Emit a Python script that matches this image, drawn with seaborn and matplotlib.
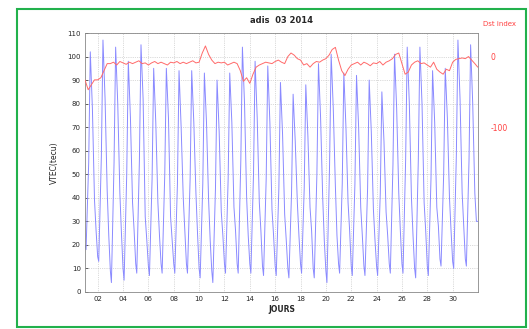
import numpy as np
import pandas as pd
import matplotlib
matplotlib.use("Agg")
import matplotlib.pyplot as plt
from matplotlib.patches import Rectangle
import seaborn as sns

# ---- data ----
days = list(range(1, 32))
# VTEC (TECU) at fixed UT hours of each day of March 2014
vtec_00h = [20, 15, 9, 10, 12, 11, 12, 12, 12, 10, 9, 12, 12, 12, 11, 11, 10, 12, 10, 9, 12, 11, 11, 11, 12, 12, 10, 11, 14, 13, 14]
vtec_02h = [18, 13, 4, 5, 8, 7, 8, 8, 8, 6, 4, 8, 8, 8, 7, 7, 6, 8, 6, 4, 8, 7, 7, 7, 8, 8, 6, 7, 11, 10, 11]
vtec_07h = [55, 58, 55, 50, 56, 48, 50, 46, 48, 46, 44, 48, 56, 50, 48, 44, 42, 44, 50, 54, 46, 46, 44, 42, 54, 56, 56, 48, 50, 58, 56]
vtec_10h = [102, 107, 104, 98, 105, 95, 95, 94, 94, 93, 90, 93, 104, 98, 96, 89, 84, 88, 97, 101, 93, 92, 90, 85, 101, 104, 104, 94, 95, 107, 105]
vtec_14h = [78, 82, 80, 74, 82, 72, 74, 70, 72, 72, 68, 72, 80, 74, 72, 67, 64, 66, 74, 78, 70, 70, 68, 64, 78, 80, 80, 72, 74, 82, 80]
vtec_18h = [39, 43, 42, 38, 32, 38, 32, 40, 42, 39, 34, 36, 40, 38, 35, 33, 38, 36, 40, 45, 38, 36, 35, 34, 42, 40, 38, 36, 40, 42, 42]
vtec_21h = [26, 24, 25, 26, 22, 24, 22, 26, 25, 22, 24, 26, 24, 26, 24, 22, 24, 26, 22, 24, 26, 24, 22, 24, 26, 24, 26, 28, 26, 28, 30]
vtec_end = 30
# Dst index (nT) every 6 h (00, 06, 12, 18 UT)
dst_6h = [-33, -47, -40, -33,  -33, -30, -20, -10,  -10, -8, -12, -7,  -9, -11, -8, -10,
          -8, -6, -10, -9,  -12, -9, -7, -10,  -8, -10, -12, -8,  -9, -7, -10, -8,
          -10, -8, -6, -9,  -8, 5, 15, 3,  -5, -10, -8, -9,  -8, -12, -10, -8,
          -10, -20, -35, -30,  -38, -25, -15, -12,  -10, -8, -9, -10,  -7, -5, -8, -10,
          0, 5, 2, -3,  -5, -12, -10, -15,  -10, -7, -8, -5,  -3, 2, 10, 13,
          -5, -20, -27, -18,  -12, -10, -8, -12,  -8, -10, -13, -9,  -10, -7, -12, -8,
          -6, -3, 3, 5,  -10, -25, -22, -12,  -8, -6, -10, -9,  -12, -15, -8, -18,
          -22, -25, -18, -20,  -8, -4, -3, -2,  -3, 0, -5, -10]
dst_end = -15

title = "adis  03 2014"
xtick_days = list(range(2, 31, 2))
xtick_labels = [f"{d:02d}" for d in xtick_days]

# ---- assemble tables ----
hours = [0, 2, 7, 10, 14, 18, 21]
cols = [vtec_00h, vtec_02h, vtec_07h, vtec_10h, vtec_14h, vtec_18h, vtec_21h]
t_v, v_v = [], []
for i, d in enumerate(days):
    for h, c in zip(hours, cols):
        t_v.append(d + h / 24.0)
        v_v.append(c[i])
t_v.append(days[-1] + 23.5 / 24.0)
v_v.append(vtec_end)
df_v = pd.DataFrame({"t": t_v, "vtec": v_v})

t_d = [days[0] + k * 0.25 for k in range(len(dst_6h))] + [days[-1] + 0.98]
df_d = pd.DataFrame({"t": t_d, "dst": dst_6h + [dst_end]})

# ---- figure ----
sns.set_theme(style="white")
plt.rcParams["font.family"] = ["DejaVu Sans"]
fig = plt.figure(figsize=(5.29, 3.29), dpi=100)
ax = fig.add_axes([85 / 529, 1 - 292 / 329, (478 - 85) / 529, (292 - 33) / 329])

sns.lineplot(data=df_v, x="t", y="vtec", ax=ax, color="#8a8aff", linewidth=0.7, sort=False)
ax.set_xlim(1, 32)
ax.set_ylim(0, 110)
ax.set_yticks(range(0, 111, 10))
ax.set_yticklabels([str(v) for v in range(0, 111, 10)])
ax.set_xticks(xtick_days)
ax.set_xticklabels(xtick_labels)
ax.set_xticks([d for d in range(1, 33) if d % 2 == 1], minor=True)
ax.tick_params(axis="both", which="major", labelsize=5, direction="in", length=2.5, width=0.5, pad=3)
ax.tick_params(axis="x", which="minor", direction="in", length=1.5, width=0.5)
ax.grid(True, which="major", linestyle=":", linewidth=0.5, color="#b8b8b8")
for s in ax.spines.values():
    s.set_color("#888888")
    s.set_linewidth(0.6)
ax.set_xlabel("JOURS", fontsize=5.5, fontweight="bold", labelpad=2)
ax.set_ylabel("VTEC(tecu)", fontsize=5.5, labelpad=6)
ax.set_title(title, fontsize=6, fontweight="bold", pad=7)

ax2 = ax.twinx()
sns.lineplot(data=df_d, x="t", y="dst", ax=ax2, color="#ff6a6a", linewidth=0.7, sort=False)
ax2.set_ylim(-333.33, 33.33)
ax2.set_yticks([-100, 0])
ax2.set_yticklabels(["-100", "0"], color="#ff4040")
ax2.tick_params(axis="y", labelsize=5.5, length=0, pad=9)
ax2.set_ylabel("")
for s in ax2.spines.values():
    s.set_visible(False)
ax2.grid(False)
ax2.text(1.012, 1.025, "Dst index", transform=ax2.transAxes, color="#ff4040",
         fontsize=5, ha="left", va="bottom")

fig.patches.append(Rectangle((17 / 529, 2 / 329), (526 - 17) / 529, (320 - 2) / 329,
                             transform=fig.transFigure, fill=False,
                             edgecolor="#22b14c", linewidth=1.5))

fig.savefig("out.png", dpi=100)
